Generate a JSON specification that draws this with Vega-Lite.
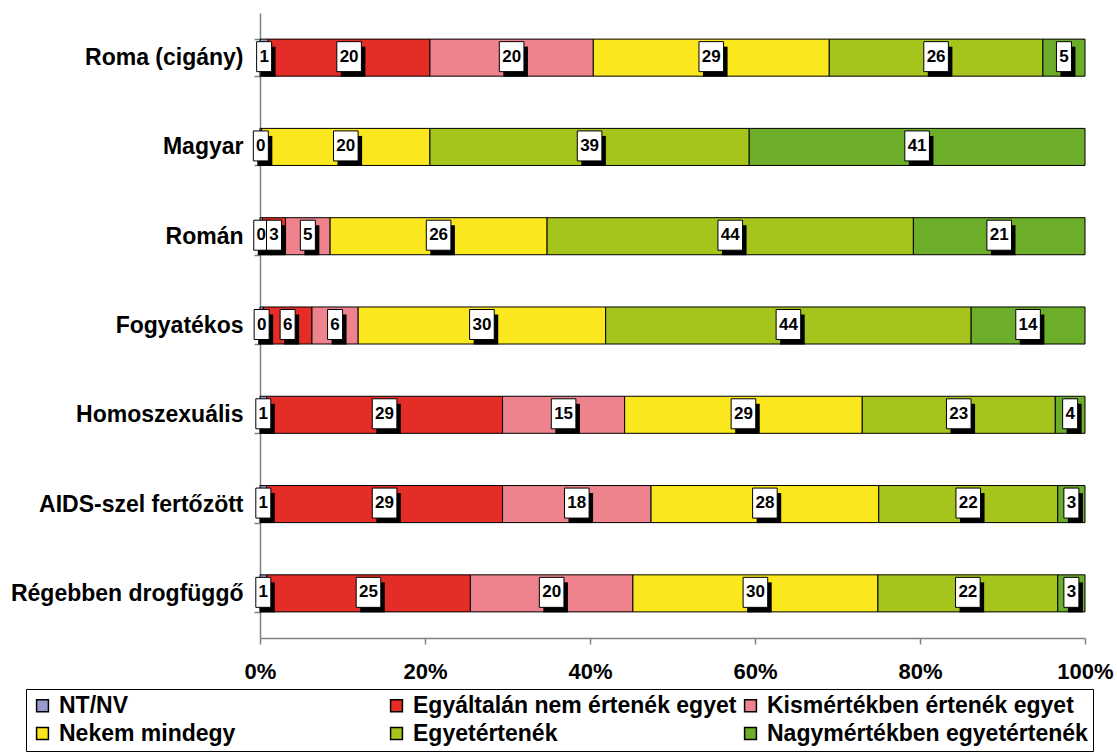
{
  "$schema": "https://vega.github.io/schema/vega-lite/v6.json",
  "width": 825,
  "height": 625,
  "autosize": "none",
  "padding": {"left": 260, "top": 13, "right": 32, "bottom": 115},
  "background": "white",
  "config": {
    "font": "Liberation Sans",
    "view": {"stroke": null},
    "legend": {
      "orient": "none",
      "legendX": -234,
      "legendY": 676,
      "columns": 3,
      "direction": "horizontal",
      "gridAlign": "all",
      "strokeColor": "black",
      "fillColor": "white",
      "padding": 5,
      "columnPadding": 2,
      "rowPadding": 4,
      "labelFontSize": 23,
      "labelFontWeight": "bold",
      "labelColor": "black",
      "labelLimit": 500,
      "labelOffset": 5,
      "symbolType": "square",
      "symbolSize": 140,
      "symbolStrokeColor": "black",
      "symbolStrokeWidth": 1.5,
      "symbolOpacity": 1
    }
  },
  "data": {
    "values": [
      {"c": "Roma (cigány)", "s": "NT/NV", "v": 1.0},
      {"c": "Roma (cigány)", "s": "Egyáltalán nem értenék egyet", "v": 19.6},
      {"c": "Roma (cigány)", "s": "Kismértékben értenék egyet", "v": 19.8},
      {"c": "Roma (cigány)", "s": "Nekem mindegy", "v": 28.6},
      {"c": "Roma (cigány)", "s": "Egyetértenék", "v": 25.9},
      {"c": "Roma (cigány)", "s": "Nagymértékben egyetértenék", "v": 5.1},
      {"c": "Magyar", "s": "NT/NV", "v": 0.2},
      {"c": "Magyar", "s": "Nekem mindegy", "v": 20.4},
      {"c": "Magyar", "s": "Egyetértenék", "v": 38.7},
      {"c": "Magyar", "s": "Nagymértékben egyetértenék", "v": 40.7},
      {"c": "Román", "s": "NT/NV", "v": 0.3},
      {"c": "Román", "s": "Egyáltalán nem értenék egyet", "v": 2.8},
      {"c": "Román", "s": "Kismértékben értenék egyet", "v": 5.4},
      {"c": "Román", "s": "Nekem mindegy", "v": 26.3},
      {"c": "Román", "s": "Egyetértenék", "v": 44.4},
      {"c": "Román", "s": "Nagymértékben egyetértenék", "v": 20.8},
      {"c": "Fogyatékos", "s": "NT/NV", "v": 0.4},
      {"c": "Fogyatékos", "s": "Egyáltalán nem értenék egyet", "v": 5.9},
      {"c": "Fogyatékos", "s": "Kismértékben értenék egyet", "v": 5.6},
      {"c": "Fogyatékos", "s": "Nekem mindegy", "v": 30.0},
      {"c": "Fogyatékos", "s": "Egyetértenék", "v": 44.3},
      {"c": "Fogyatékos", "s": "Nagymértékben egyetértenék", "v": 13.8},
      {"c": "Homoszexuális", "s": "NT/NV", "v": 0.8},
      {"c": "Homoszexuális", "s": "Egyáltalán nem értenék egyet", "v": 28.6},
      {"c": "Homoszexuális", "s": "Kismértékben értenék egyet", "v": 14.8},
      {"c": "Homoszexuális", "s": "Nekem mindegy", "v": 28.8},
      {"c": "Homoszexuális", "s": "Egyetértenék", "v": 23.4},
      {"c": "Homoszexuális", "s": "Nagymértékben egyetértenék", "v": 3.6},
      {"c": "AIDS-szel fertőzött", "s": "NT/NV", "v": 0.8},
      {"c": "AIDS-szel fertőzött", "s": "Egyáltalán nem értenék egyet", "v": 28.6},
      {"c": "AIDS-szel fertőzött", "s": "Kismértékben értenék egyet", "v": 18.0},
      {"c": "AIDS-szel fertőzött", "s": "Nekem mindegy", "v": 27.6},
      {"c": "AIDS-szel fertőzött", "s": "Egyetértenék", "v": 21.7},
      {"c": "AIDS-szel fertőzött", "s": "Nagymértékben egyetértenék", "v": 3.3},
      {"c": "Régebben drogfüggő", "s": "NT/NV", "v": 0.8},
      {"c": "Régebben drogfüggő", "s": "Egyáltalán nem értenék egyet", "v": 24.7},
      {"c": "Régebben drogfüggő", "s": "Kismértékben értenék egyet", "v": 19.7},
      {"c": "Régebben drogfüggő", "s": "Nekem mindegy", "v": 29.7},
      {"c": "Régebben drogfüggő", "s": "Egyetértenék", "v": 21.8},
      {"c": "Régebben drogfüggő", "s": "Nagymértékben egyetértenék", "v": 3.3}
    ]
  },
  "transform": [
    {"calculate": "indexof(['NT/NV','Egyáltalán nem értenék egyet','Kismértékben értenék egyet','Nekem mindegy','Egyetértenék','Nagymértékben egyetértenék'], datum.s)", "as": "k"},
    {"stack": "v", "groupby": ["c"], "sort": [{"field": "k", "order": "ascending"}], "offset": "normalize", "as": ["x0", "x1"]},
    {"calculate": "(datum.x0 + datum.x1) / 2", "as": "xm"},
    {"calculate": "format(datum.v, '.0f')", "as": "lab"},
    {"calculate": "length(datum.lab)", "as": "nd"}
  ],
  "encoding": {
    "y": {
      "field": "c",
      "type": "nominal",
      "sort": ["Roma (cigány)", "Magyar", "Román", "Fogyatékos", "Homoszexuális", "AIDS-szel fertőzött", "Régebben drogfüggő"],
      "scale": {"paddingInner": 0.585, "paddingOuter": 0.2925},
      "axis": {
        "title": null,
        "labelFontSize": 23,
        "labelFontWeight": "bold",
        "labelColor": "black",
        "labelPadding": 11,
        "labelLimit": 300,
        "tickSize": 6,
        "tickBand": "extent",
        "tickColor": "#808080",
        "domainColor": "#808080",
        "domainWidth": 1.5,
        "tickWidth": 1.5
      }
    }
  },
  "layer": [
    {
      "mark": {"type": "bar", "stroke": "black", "strokeWidth": 1},
      "encoding": {
        "x": {
          "field": "x0",
          "type": "quantitative",
          "scale": {"domain": [0, 1], "nice": false},
          "axis": {
            "title": null,
            "format": ".0%",
            "values": [0, 0.2, 0.4, 0.6, 0.8, 1],
            "grid": false,
            "labelFontSize": 22,
            "labelFontWeight": "bold",
            "labelColor": "black",
            "labelPadding": 17,
            "labelFlush": false,
            "tickSize": 6,
            "tickColor": "#808080",
            "domainColor": "#808080",
            "domainWidth": 1.5,
            "tickWidth": 1.5
          }
        },
        "x2": {"field": "x1"},
        "color": {
          "field": "s",
          "type": "nominal",
          "title": null,
          "scale": {
            "domain": ["NT/NV", "Egyáltalán nem értenék egyet", "Kismértékben értenék egyet", "Nekem mindegy", "Egyetértenék", "Nagymértékben egyetértenék"],
            "range": ["#9999CC", "#E42D26", "#EE838D", "#FAE71E", "#A6C51C", "#6CAE29"]
          }
        }
      }
    },
    {
      "mark": {"type": "point", "filled": true, "fill": "black", "opacity": 1, "size": 900, "xOffset": 4, "yOffset": 4, "strokeWidth": 0},
      "encoding": {
        "x": {"field": "xm", "type": "quantitative"},
        "shape": {"field": "nd", "type": "ordinal", "scale": {"domain": [1, 2], "range": ["M-0.5,-1H0.5V1H-0.5Z", "M-0.82,-1H0.82V1H-0.82Z"]}, "legend": null}
      }
    },
    {
      "mark": {"type": "point", "filled": true, "fill": "white", "stroke": "black", "strokeWidth": 1, "opacity": 1, "size": 900, "yOffset": -1},
      "encoding": {
        "x": {"field": "xm", "type": "quantitative"},
        "shape": {"field": "nd", "type": "ordinal", "legend": null}
      }
    },
    {
      "mark": {"type": "text", "fontSize": 17, "fontWeight": "bold", "color": "black", "align": "center", "baseline": "middle", "yOffset": -1},
      "encoding": {
        "x": {"field": "xm", "type": "quantitative"},
        "text": {"field": "lab"}
      }
    }
  ]
}
